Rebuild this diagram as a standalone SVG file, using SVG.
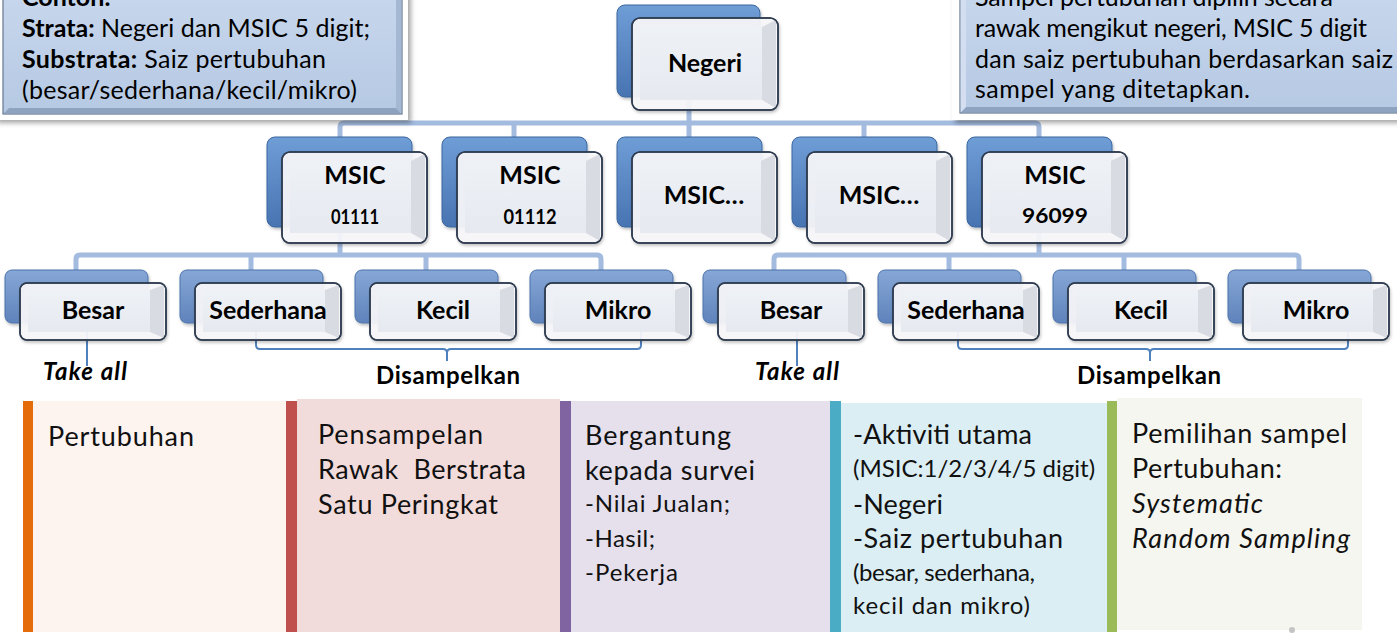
<svg xmlns="http://www.w3.org/2000/svg" width="1397" height="634" viewBox="0 0 1397 634">
<defs>
  <linearGradient id="gBack" x1="0" y1="0" x2="0" y2="1">
    <stop offset="0" stop-color="#6f9dd6"/>
    <stop offset="1" stop-color="#4874b2"/>
  </linearGradient>
  <linearGradient id="gBack3" x1="0" y1="0" x2="0" y2="1">
    <stop offset="0" stop-color="#86a7d6"/>
    <stop offset="1" stop-color="#5f83bb"/>
  </linearGradient>
  <linearGradient id="gFace" x1="0" y1="0" x2="0" y2="1">
    <stop offset="0" stop-color="#eef1f6"/>
    <stop offset="1" stop-color="#e6eaf0"/>
  </linearGradient>
  <linearGradient id="gCall" x1="0" y1="0" x2="0" y2="1">
    <stop offset="0" stop-color="#c7d7ed"/>
    <stop offset="1" stop-color="#b6c9e3"/>
  </linearGradient>
  <filter id="sh" x="-10%" y="-20%" width="125%" height="150%">
    <feDropShadow dx="3" dy="3" stdDeviation="2.5" flood-color="#000" flood-opacity="0.35"/>
  </filter>
  <filter id="nsh" x="-10%" y="-10%" width="125%" height="130%">
    <feDropShadow dx="1" dy="2" stdDeviation="1.5" flood-color="#000" flood-opacity="0.25"/>
  </filter>
</defs>
<style>
  .back{fill:url(#gBack);stroke:#3b669f;stroke-width:1;filter:url(#nsh)}
  .back3{fill:url(#gBack3);stroke:#4d73aa;stroke-width:1;filter:url(#nsh)}
  .front{fill:#f7f8fa;fill-opacity:0.93;stroke:#2f3c50;stroke-width:1.5;filter:url(#nsh)}
  .bev{fill:#d8dbe1}
  .face{fill:url(#gFace)}
  .edge{fill:none;stroke:#2f3c50;stroke-width:1.5}
  .lbl{font-family:Lato,"Open Sans","DejaVu Sans",sans-serif;font-weight:bold;font-size:25px;fill:#000;text-anchor:middle}
  .num{font-family:Lato,"Open Sans","DejaVu Sans",sans-serif;font-weight:bold;font-size:20px;fill:#000;text-anchor:middle}
  .tree{fill:none;stroke:#a3bbdf;stroke-width:5;stroke-linejoin:round}
  .brk{fill:none;stroke:#4f81bd;stroke-width:2}
  .note{font-family:Lato,"Open Sans","DejaVu Sans",sans-serif;font-weight:bold;font-size:24px;fill:#000;text-anchor:middle}
  .ct{font-family:Lato,"Open Sans","DejaVu Sans",sans-serif;font-size:25px;fill:#000}
  .pt{font-family:Lato,"Open Sans","DejaVu Sans",sans-serif;font-size:27px;fill:#111}
  .ps{font-family:Lato,"Open Sans","DejaVu Sans",sans-serif;font-size:24px;fill:#111}
  .b{font-weight:bold}
  .i{font-style:italic}
</style>

<!-- bottom panels -->
<g id="panels">
  <rect x="33" y="401" width="253" height="231" fill="#fdf4ef"/>
  <rect x="23" y="401" width="10" height="231" fill="#e46c0a"/>
  <rect x="297" y="399" width="263" height="233" fill="#f2dcdb"/>
  <rect x="286" y="401" width="11" height="231" fill="#c0504d"/>
  <rect x="571" y="401" width="259" height="231" fill="#e5e0ec"/>
  <rect x="560" y="401" width="11" height="231" fill="#8064a2"/>
  <rect x="841" y="403" width="266" height="229" fill="#dbeef4"/>
  <rect x="830" y="401" width="11" height="231" fill="#4bacc6"/>
  <rect x="1117" y="398" width="245" height="232" fill="#f5f6ef"/>
  <rect x="1107" y="401" width="10" height="231" fill="#9bbb59"/>
  <circle cx="1292" cy="630" r="3" fill="#c4c4c4"/>
</g>
<g id="panel-text">
  <text class="pt" x="48" y="446" textLength="146">Pertubuhan</text>
  <text class="pt" x="318" y="444" textLength="165">Pensampelan</text>
  <text class="pt" x="318" y="479" textLength="208" xml:space="preserve">Rawak  Berstrata</text>
  <text class="pt" x="318" y="514" textLength="180">Satu Peringkat</text>
  <text class="pt" x="585" y="445" textLength="146">Bergantung</text>
  <text class="pt" x="585" y="480" textLength="170">kepada survei</text>
  <text class="ps" x="585" y="512" textLength="145">-Nilai Jualan;</text>
  <text class="ps" x="585" y="547" textLength="70">-Hasil;</text>
  <text class="ps" x="585" y="581" textLength="93">-Pekerja</text>
  <text class="pt" x="853" y="444" textLength="179">-Aktiviti utama</text>
  <text class="ps" x="853" y="477" font-size="21">(MSIC:1/2/3/4/5 digit)</text>
  <text class="pt" x="853" y="514" textLength="90">-Negeri</text>
  <text class="pt" x="853" y="548" textLength="210">-Saiz pertubuhan</text>
  <text class="ps" x="853" y="581" textLength="182">(besar, sederhana,</text>
  <text class="ps" x="853" y="614" textLength="177">kecil dan mikro)</text>
  <text class="pt" x="1132" y="443" textLength="215">Pemilihan sampel</text>
  <text class="pt" x="1132" y="478" textLength="150">Pertubuhan:</text>
  <text class="pt i" x="1132" y="513" textLength="131">Systematic</text>
  <text class="pt i" x="1132" y="548" textLength="218">Random Sampling</text>
</g>

<!-- connectors -->
<g id="connectors">
  <path class="tree" d="M689,97 V137 M340,137 V127 Q340,123 344,123 H1035 Q1039,123 1039,127 V137 M514,123 V137 M864,123 V137"/>
  <path class="tree" d="M340,227 V255 M76,270 V259 Q76,255 80,255 H597 Q601,255 601,259 V270 M251,255 V270 M426,255 V270"/>
  <path class="tree" d="M1039,227 V255 M774,270 V259 Q774,255 778,255 H1295 Q1299,255 1299,259 V270 M949,255 V270 M1124,255 V270"/>
  <path class="brk" d="M87,328 V366"/>
  <path class="brk" d="M797,328 V366"/>
  <path class="brk" d="M256,331 V345 Q256,349 260,349 H443 Q447,349 447,353 V361 M447,353 Q447,349 451,349 H637 Q641,349 641,345 V331"/>
  <path class="brk" d="M958,331 V345 Q958,349 962,349 H1146 Q1150,349 1150,353 V361 M1150,353 Q1150,349 1154,349 H1344 Q1348,349 1348,345 V331"/>
</g>

<!-- level 1 -->
<g id="n-negeri">
  <rect class="back" x="617" y="5" width="143" height="92" rx="8"/>
  <rect class="front" x="632" y="18" width="146" height="92" rx="8"/>
  <path class="bev" d="M762,27 L776,20 V108 L762,100 Z"/>
  <rect class="face" x="640" y="27" width="122" height="73"/>
  <rect class="edge" x="632" y="18" width="146" height="92" rx="8"/>
  <text class="lbl" x="705" y="72">Negeri</text>
</g>

<!-- level 2 -->
<g id="n-msic-01111">
  <rect class="back" x="267" y="137" width="145" height="90" rx="8"/>
  <rect class="front" x="282" y="152" width="145" height="91" rx="8"/>
  <path class="bev" d="M411,161 L425,154 V241 L411,233 Z"/>
  <rect class="face" x="290" y="161" width="121" height="72"/>
  <rect class="edge" x="282" y="152" width="145" height="91" rx="8"/>
  <text class="lbl" x="355" y="184">MSIC</text>
  <text class="num" x="355" y="224" textLength="48" lengthAdjust="spacingAndGlyphs">01111</text>
</g>
<g id="n-msic-01112">
  <rect class="back" x="442" y="137" width="145" height="90" rx="8"/>
  <rect class="front" x="457" y="152" width="145" height="91" rx="8"/>
  <path class="bev" d="M586,161 L600,154 V241 L586,233 Z"/>
  <rect class="face" x="465" y="161" width="121" height="72"/>
  <rect class="edge" x="457" y="152" width="145" height="91" rx="8"/>
  <text class="lbl" x="530" y="184">MSIC</text>
  <text class="num" x="530" y="224" textLength="53" lengthAdjust="spacingAndGlyphs">01112</text>
</g>
<g id="n-msic-a">
  <rect class="back" x="617" y="137" width="145" height="90" rx="8"/>
  <rect class="front" x="632" y="152" width="145" height="91" rx="8"/>
  <path class="bev" d="M761,161 L775,154 V241 L761,233 Z"/>
  <rect class="face" x="640" y="161" width="121" height="72"/>
  <rect class="edge" x="632" y="152" width="145" height="91" rx="8"/>
  <text class="lbl" x="704" y="204">MSIC…</text>
</g>
<g id="n-msic-b">
  <rect class="back" x="792" y="137" width="145" height="90" rx="8"/>
  <rect class="front" x="807" y="152" width="145" height="91" rx="8"/>
  <path class="bev" d="M936,161 L950,154 V241 L936,233 Z"/>
  <rect class="face" x="815" y="161" width="121" height="72"/>
  <rect class="edge" x="807" y="152" width="145" height="91" rx="8"/>
  <text class="lbl" x="879" y="204">MSIC…</text>
</g>
<g id="n-msic-96099">
  <rect class="back" x="967" y="137" width="145" height="90" rx="8"/>
  <rect class="front" x="982" y="152" width="145" height="91" rx="8"/>
  <path class="bev" d="M1111,161 L1125,154 V241 L1111,233 Z"/>
  <rect class="face" x="990" y="161" width="121" height="72"/>
  <rect class="edge" x="982" y="152" width="145" height="91" rx="8"/>
  <text class="lbl" x="1055" y="184">MSIC</text>
  <text class="num" x="1055" y="223" textLength="66" lengthAdjust="spacingAndGlyphs">96099</text>
</g>

<!-- level 3, group 1 -->
<g id="n-besar-1">
  <rect class="back3" x="5" y="270" width="143" height="53" rx="7"/>
  <rect class="front" x="20" y="283" width="146" height="57" rx="7"/>
  <path class="bev" d="M150,290 L164,285 V338 L150,332 Z"/>
  <rect class="face" x="28" y="290" width="122" height="42"/>
  <rect class="edge" x="20" y="283" width="146" height="57" rx="7"/>
  <text class="lbl" x="93" y="319">Besar</text>
</g>
<g id="n-sederhana-1">
  <rect class="back3" x="180" y="270" width="143" height="53" rx="7"/>
  <rect class="front" x="195" y="283" width="146" height="57" rx="7"/>
  <path class="bev" d="M325,290 L339,285 V338 L325,332 Z"/>
  <rect class="face" x="203" y="290" width="122" height="42"/>
  <rect class="edge" x="195" y="283" width="146" height="57" rx="7"/>
  <text class="lbl" x="268" y="319">Sederhana</text>
</g>
<g id="n-kecil-1">
  <rect class="back3" x="355" y="270" width="143" height="53" rx="7"/>
  <rect class="front" x="370" y="283" width="146" height="57" rx="7"/>
  <path class="bev" d="M500,290 L514,285 V338 L500,332 Z"/>
  <rect class="face" x="378" y="290" width="122" height="42"/>
  <rect class="edge" x="370" y="283" width="146" height="57" rx="7"/>
  <text class="lbl" x="443" y="319">Kecil</text>
</g>
<g id="n-mikro-1">
  <rect class="back3" x="530" y="270" width="143" height="53" rx="7"/>
  <rect class="front" x="545" y="283" width="146" height="57" rx="7"/>
  <path class="bev" d="M675,290 L689,285 V338 L675,332 Z"/>
  <rect class="face" x="553" y="290" width="122" height="42"/>
  <rect class="edge" x="545" y="283" width="146" height="57" rx="7"/>
  <text class="lbl" x="618" y="319">Mikro</text>
</g>

<!-- level 3, group 2 -->
<g id="n-besar-2">
  <rect class="back3" x="703" y="270" width="143" height="53" rx="7"/>
  <rect class="front" x="718" y="283" width="146" height="57" rx="7"/>
  <path class="bev" d="M848,290 L862,285 V338 L848,332 Z"/>
  <rect class="face" x="726" y="290" width="122" height="42"/>
  <rect class="edge" x="718" y="283" width="146" height="57" rx="7"/>
  <text class="lbl" x="791" y="319">Besar</text>
</g>
<g id="n-sederhana-2">
  <rect class="back3" x="878" y="270" width="143" height="53" rx="7"/>
  <rect class="front" x="893" y="283" width="146" height="57" rx="7"/>
  <path class="bev" d="M1023,290 L1037,285 V338 L1023,332 Z"/>
  <rect class="face" x="901" y="290" width="122" height="42"/>
  <rect class="edge" x="893" y="283" width="146" height="57" rx="7"/>
  <text class="lbl" x="966" y="319">Sederhana</text>
</g>
<g id="n-kecil-2">
  <rect class="back3" x="1053" y="270" width="143" height="53" rx="7"/>
  <rect class="front" x="1068" y="283" width="146" height="57" rx="7"/>
  <path class="bev" d="M1198,290 L1212,285 V338 L1198,332 Z"/>
  <rect class="face" x="1076" y="290" width="122" height="42"/>
  <rect class="edge" x="1068" y="283" width="146" height="57" rx="7"/>
  <text class="lbl" x="1141" y="319">Kecil</text>
</g>
<g id="n-mikro-2">
  <rect class="back3" x="1228" y="270" width="143" height="53" rx="7"/>
  <rect class="front" x="1243" y="283" width="146" height="57" rx="7"/>
  <path class="bev" d="M1373,290 L1387,285 V338 L1373,332 Z"/>
  <rect class="face" x="1251" y="290" width="122" height="42"/>
  <rect class="edge" x="1243" y="283" width="146" height="57" rx="7"/>
  <text class="lbl" x="1316" y="319">Mikro</text>
</g>

<!-- bracket labels -->
<g id="labels">
  <text class="note i" x="85" y="380" textLength="84">Take all</text>
  <text class="note i" x="797" y="380" textLength="84">Take all</text>
  <text class="note" x="448" y="384" textLength="144">Disampelkan</text>
  <text class="note" x="1149" y="384" textLength="144">Disampelkan</text>
</g>

<!-- callouts -->
<g id="callout-left">
  <rect x="-6" y="-10" width="414" height="130" fill="#ffffff" filter="url(#sh)"/>
  <rect x="3" y="-10" width="399" height="124" fill="url(#gCall)" stroke="#66778f" stroke-width="1.2"/>
  <path d="M3.6,113.4 L9,108 H396 L401.4,113.4 Z" fill="#8ea3c0"/>
  <path d="M401.4,-10 V113.4 L396,108 V-10 Z" fill="#a5b8d3"/>
  <text class="ct b" x="22" y="6">Contoh:</text>
  <text class="ct" x="22" y="37" textLength="348"><tspan class="b">Strata:</tspan> Negeri dan MSIC 5 digit;</text>
  <text class="ct" x="22" y="68" textLength="304"><tspan class="b">Substrata:</tspan> Saiz pertubuhan</text>
  <text class="ct" x="22" y="99" textLength="335">(besar/sederhana/kecil/mikro)</text>
</g>
<g id="callout-right">
  <rect x="952" y="-10" width="460" height="130" fill="#ffffff" filter="url(#sh)"/>
  <rect x="960" y="-10" width="450" height="123" fill="url(#gCall)" stroke="#66778f" stroke-width="1.2"/>
  <path d="M960.6,112.4 L966,107 H1410 V112.4 Z" fill="#8ea3c0"/>
  <path d="M960.6,-10 V112.4 L966,107 V-10 Z" fill="#d3dff0"/>
  <text class="ct" x="975" y="6" textLength="358">Sampel pertubuhan dipilih secara</text>
  <text class="ct" x="975" y="37" textLength="392">rawak mengikut negeri, MSIC 5 digit</text>
  <text class="ct" x="975" y="68" textLength="418">dan saiz pertubuhan berdasarkan saiz</text>
  <text class="ct" x="975" y="98" textLength="275">sampel yang ditetapkan.</text>
</g>
</svg>
